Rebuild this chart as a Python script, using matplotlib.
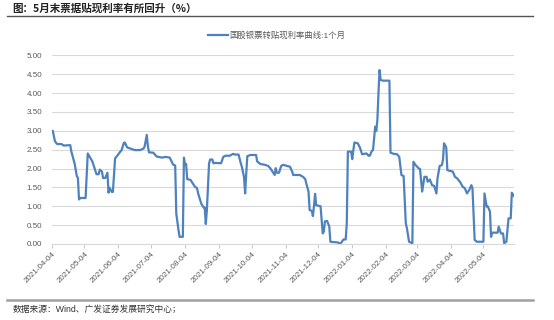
import numpy as np
import pandas as pd
import matplotlib
matplotlib.use("Agg")
import matplotlib.pyplot as plt

plt.rcParams['font.family'] = ['Liberation Sans', 'Noto Sans CJK SC', 'DejaVu Sans']

# data: days after 2021-04-04, rate (%)
start = pd.Timestamp('2021-04-04')
day = [0, 1, 3, 5, 9, 11, 17, 18, 20, 21, 23, 24, 25, 26, 31, 33, 34, 37, 39, 41,
       43, 44, 46, 47, 49, 51, 52, 53, 55, 56, 58, 60, 62, 64, 66, 67, 69, 72, 76, 81,
       84, 85, 87, 88, 89, 93, 96, 101, 104, 108, 111, 113, 114, 116, 117, 120, 121, 122, 123, 124,
       127, 129, 131, 133, 134, 137, 139, 140, 141, 142, 144, 145, 147, 148, 150, 155, 157, 159, 163, 166,
       168, 171, 173, 174, 176, 177, 178, 179, 182, 187, 188, 191, 195, 198, 200, 202, 204, 205, 206, 208,
       210, 212, 215, 218, 220, 221, 227, 230, 232, 233, 235, 236, 238, 239, 240, 241, 242, 246, 248, 249,
       250, 252, 254, 255, 262, 264, 265, 267, 269, 270, 271, 274, 275, 276, 277, 280, 282, 284, 288, 290,
       291, 293, 294, 296, 297, 298, 299, 300, 301, 303, 309, 310, 313, 316, 318, 320, 322, 324, 325, 327,
       330, 331, 333, 336, 337, 339, 341, 343, 344, 346, 348, 350, 352, 353, 355, 357, 358, 359, 361, 362,
       364, 367, 369, 371, 374, 376, 378, 380, 382, 384, 385, 387, 389, 395, 396, 398, 399, 401, 402, 403,
       408, 409, 411, 413, 414, 416, 418, 420, 421, 423]
rate = [3.00, 3.00, 2.72, 2.65, 2.65, 2.61, 2.62, 2.45, 2.23, 2.13, 1.80, 1.75, 1.18, 1.22, 1.22, 2.40, 2.35, 2.20, 2.03, 1.85,
        1.85, 1.97, 1.92, 1.75, 1.75, 1.89, 1.36, 1.49, 1.38, 1.38, 2.27, 2.34, 2.42, 2.49, 2.68, 2.69, 2.56, 2.53, 2.49, 2.49,
        2.53, 2.58, 2.89, 2.60, 2.43, 2.42, 2.32, 2.29, 2.31, 2.29, 2.11, 2.08, 0.81, 0.37, 0.19, 0.19, 2.29, 2.11, 2.12, 1.72,
        1.70, 1.61, 1.52, 1.48, 1.34, 1.06, 0.97, 0.97, 0.53, 0.90, 2.14, 2.24, 2.24, 2.14, 2.15, 2.14, 2.31, 2.34, 2.34, 2.39,
        2.37, 2.37, 2.14, 2.05, 1.77, 1.34, 1.87, 2.33, 2.36, 2.36, 2.19, 2.12, 2.10, 2.07, 2.01, 1.92, 1.83, 2.01, 1.89, 1.89,
        2.07, 2.10, 2.07, 2.05, 1.92, 1.83, 1.83, 1.78, 1.72, 1.60, 1.39, 0.90, 0.88, 0.74, 1.00, 1.33, 1.03, 1.00, 0.28, 0.33,
        0.60, 0.61, 0.46, 0.06, 0.04, 0.00, 0.04, 0.12, 0.12, 0.55, 2.45, 2.45, 2.25, 2.49, 2.69, 2.67, 2.56, 2.38, 2.40, 2.34,
        2.34, 2.47, 2.49, 3.11, 3.00, 3.29, 4.00, 4.61, 4.35, 4.33, 4.33, 2.42, 2.39, 2.38, 2.31, 1.83, 1.80, 0.55, 0.42, 0.06,
        0.02, 2.18, 2.09, 2.00, 1.99, 1.39, 1.78, 1.78, 1.65, 1.71, 1.56, 1.54, 1.34, 1.74, 2.07, 2.09, 2.23, 2.67, 2.56, 1.96,
        1.94, 1.92, 1.78, 1.74, 1.63, 1.52, 1.48, 1.34, 1.43, 1.56, 1.48, 0.11, 0.06, 0.06, 1.34, 0.99, 1.00, 0.86, 0.19, 0.30,
        0.30, 0.46, 0.28, 0.28, 0.02, 0.06, 0.68, 0.68, 1.36, 1.27]

title = '图：5月末票据贴现利率有所回升（%）'
series_name = '国股银票转贴现利率曲线:1个月'
source = '数据来源：Wind、广发证券发展研究中心；'

dates = start + pd.to_timedelta(day, unit='D')
ticks = pd.date_range(start, periods=14, freq=pd.DateOffset(months=1))

fig = plt.figure(figsize=(5.54, 3.2), dpi=100)
ax = fig.add_axes([0.0933, 0.2375, 0.8345, 0.5894])

ax.plot(dates, rate, color='#4F81BD', lw=1.6, label=series_name)

ax.set_ylim(0, 5)
ax.set_yticks(np.arange(0, 5.01, 0.5))
ax.set_yticklabels(['%.2f' % v for v in np.arange(0, 5.01, 0.5)])
ax.set_xlim(dates[0], dates[-1])
ax.set_xticks(ticks)
ax.set_xticklabels([t.strftime('%Y-%m-%d') for t in ticks], rotation=45,
                   ha='right', rotation_mode='anchor')

ax.grid(axis='y', color='#d9d9d9', lw=0.8)
ax.set_axisbelow(True)
for s in ['left', 'right', 'top']:
    ax.spines[s].set_visible(False)
ax.spines['bottom'].set_color('#d9d9d9')
ax.spines['bottom'].set_linewidth(0.8)
ax.tick_params(axis='y', length=0, pad=7, labelsize=5.8, labelcolor='#595959')
ax.tick_params(axis='x', length=3, width=0.6, color='#bfbfbf', pad=2,
               labelsize=5.8, labelcolor='#595959')

leg = ax.legend(loc='center', bbox_to_anchor=(0.5, 0.89), bbox_transform=fig.transFigure,
                frameon=False, fontsize=6, handlelength=2.4, handletextpad=0.15)
for t in leg.get_texts():
    t.set_color('#595959')

fig.text(0.023, 0.975, title, fontsize=7.6, fontweight='bold', color='#222222',
         family=['Noto Sans CJK SC'], va='center', ha='left')
fig.add_artist(plt.Line2D([0.013, 0.962], [0.951, 0.951], color='#555555', lw=1.0))
fig.add_artist(plt.Line2D([0.013, 0.962], [0.0625, 0.0625], color='#a0a0a0', lw=1.8))
fig.text(0.022, 0.034, source, fontsize=6.3, color='#333333', va='center', ha='left')

fig.savefig('out.png', dpi=100)
